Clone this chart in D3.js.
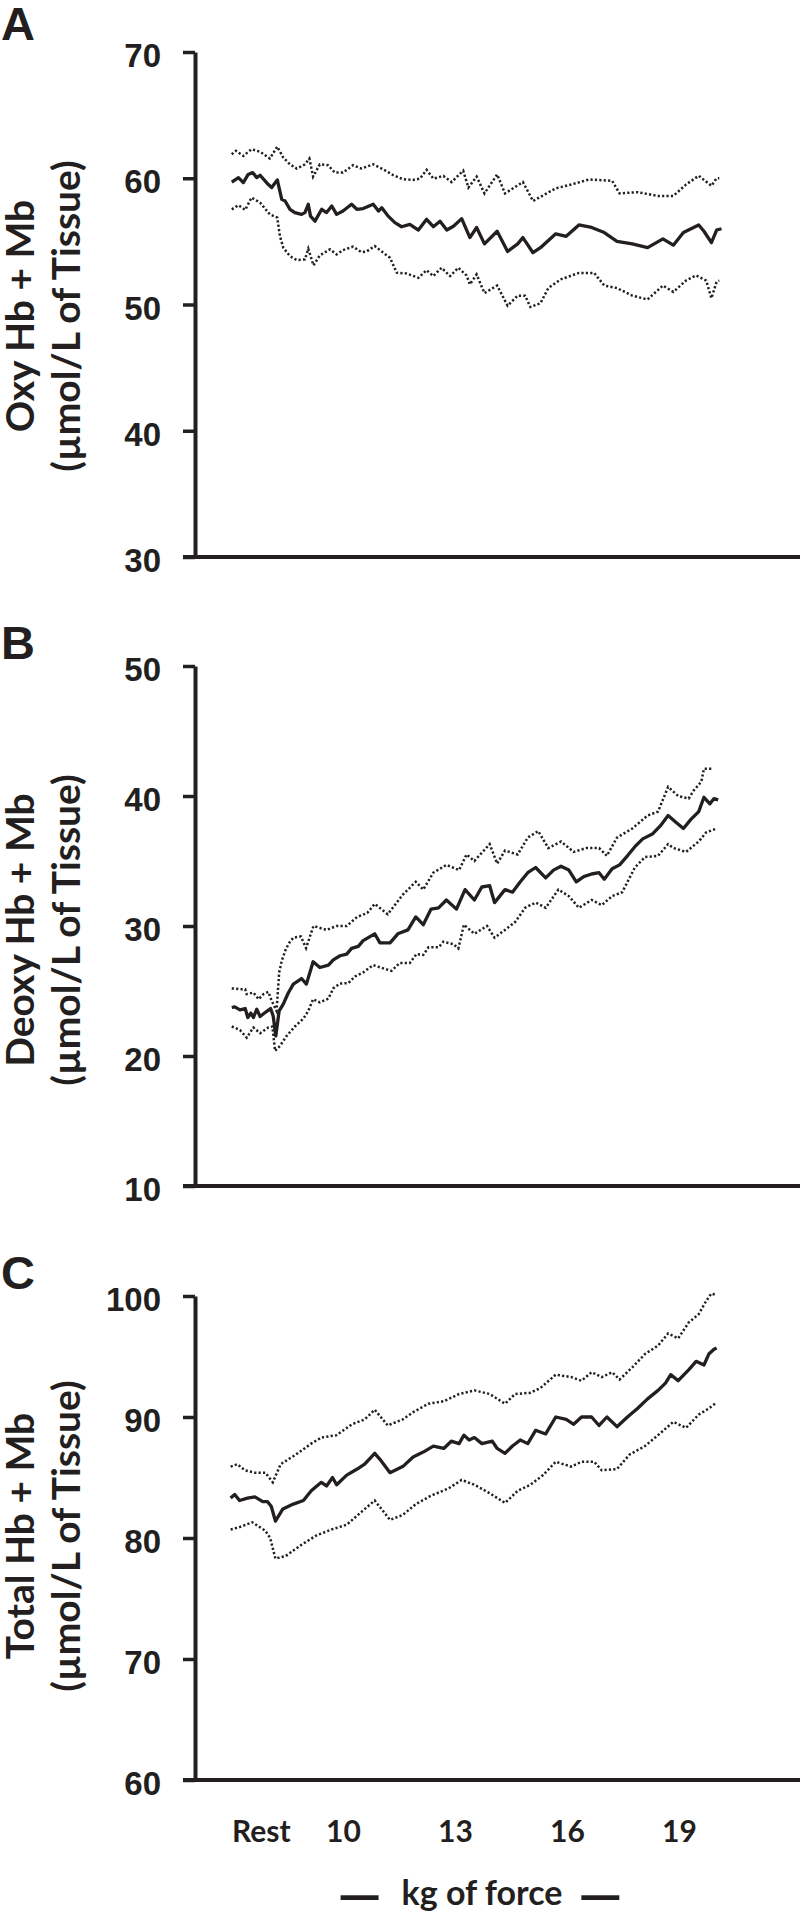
<!DOCTYPE html>
<html>
<head>
<meta charset="utf-8">
<script src="https://cdn.jsdelivr.net/npm/d3@7"></script>
<style>
  body { margin: 0; background: #fff; }
  .tick text { font-family: "Liberation Sans", Arial, sans-serif; font-weight: bold; }
  .lato { font-family: Lato, "Open Sans", sans-serif; font-weight: bold; }
</style>
</head>
<body>
<div id="chart"></div>
<script>
// x values are kg of force, rest period sits before 10 kg
var forceTicks = [7.8, 10, 13, 16, 19];
var forceLabels = ["Rest", "10", "13", "16", "19"];

// A - oxy Hb + Mb
var oxyTicks = [30, 40, 50, 60, 70];
var oxyMean = [[7.02,59.7],[7.20,60.05],[7.33,59.66],[7.46,60.3],[7.58,60.45],[7.69,60.05],[7.78,60.24],[8.00,59.5],[8.09,59.26],[8.24,59.87],[8.36,58.33],[8.45,58.2],[8.58,57.54],[8.71,57.28],[8.89,57.14],[8.98,57.28],[9.07,57.94],[9.13,57.0],[9.25,56.6],[9.43,57.54],[9.56,57.28],[9.70,57.8],[9.83,57.14],[10.00,57.4],[10.23,57.94],[10.37,57.54],[10.54,57.6],[10.81,57.94],[10.95,57.4],[11.04,57.67],[11.21,57.0],[11.39,56.48],[11.57,56.16],[11.79,56.35],[12.02,55.9],[12.24,56.75],[12.42,56.16],[12.60,56.6],[12.78,55.9],[12.96,56.2],[13.18,56.8],[13.40,55.3],[13.58,56.1],[13.79,54.8],[14.13,55.8],[14.41,54.2],[14.68,54.8],[14.82,55.3],[15.09,54.1],[15.29,54.5],[15.70,55.6],[15.98,55.4],[16.32,56.3],[16.66,56.1],[17.00,55.7],[17.34,55.0],[17.75,54.8],[18.16,54.5],[18.57,55.2],[18.85,54.7],[19.12,55.7],[19.53,56.3],[19.67,55.8],[19.87,54.9],[20.01,55.9],[20.14,56.0]];
var oxyUpper = [[7.02,61.9],[7.13,62.17],[7.33,61.77],[7.55,62.3],[7.78,62.1],[8.04,61.56],[8.24,62.5],[8.40,61.64],[8.58,61.1],[8.76,60.77],[8.98,61.1],[9.10,61.56],[9.20,60.13],[9.38,61.1],[9.60,61.03],[9.78,60.45],[10.00,60.45],[10.27,61.03],[10.49,60.77],[10.81,61.1],[11.08,60.7],[11.35,60.24],[11.61,59.92],[11.88,59.87],[12.06,59.97],[12.24,60.66],[12.42,59.97],[12.69,60.18],[12.91,59.7],[13.22,60.6],[13.36,59.26],[13.58,60.13],[13.79,58.8],[14.13,60.3],[14.34,58.8],[14.82,59.7],[15.09,58.2],[15.70,59.2],[16.11,59.5],[16.59,59.9],[17.21,59.8],[17.41,58.8],[17.89,58.9],[18.44,58.6],[18.85,58.6],[19.19,59.5],[19.53,60.2],[19.87,59.4],[20.01,60.0],[20.08,60.0]];
var oxyLower = [[7.02,57.54],[7.20,57.86],[7.38,57.49],[7.55,58.47],[7.78,58.07],[8.04,57.14],[8.24,56.88],[8.31,55.42],[8.40,54.5],[8.58,53.83],[8.76,53.52],[8.98,53.57],[9.07,54.42],[9.21,53.1],[9.38,53.89],[9.65,54.37],[9.83,53.97],[10.00,54.31],[10.27,54.58],[10.49,54.15],[10.63,54.2],[10.85,54.63],[11.08,54.1],[11.26,53.7],[11.44,52.52],[11.70,52.46],[12.02,52.12],[12.24,52.72],[12.42,52.25],[12.64,52.91],[12.87,52.25],[13.09,52.91],[13.31,52.3],[13.40,51.59],[13.58,52.38],[13.79,50.9],[14.13,51.5],[14.41,49.9],[14.68,50.7],[14.88,50.7],[15.02,49.8],[15.29,50.1],[15.50,51.3],[15.84,52.0],[16.32,52.5],[16.73,52.5],[17.00,51.5],[17.34,51.3],[17.75,50.7],[18.16,50.4],[18.57,51.5],[18.85,51.0],[19.19,51.9],[19.46,52.3],[19.73,51.9],[19.87,50.5],[20.01,51.8],[20.08,51.9]];

// B - deoxy Hb + Mb
var deoxyTicks = [10, 20, 30, 40, 50];
var deoxyMean = [[7.02,23.73],[7.10,23.78],[7.24,23.55],[7.38,23.65],[7.45,22.96],[7.53,23.3],[7.60,22.96],[7.69,23.6],[7.78,23.04],[7.94,23.4],[8.06,23.65],[8.13,23.08],[8.20,21.54],[8.29,23.47],[8.40,23.99],[8.53,24.83],[8.67,25.53],[8.89,25.96],[9.02,25.53],[9.20,27.25],[9.38,26.81],[9.61,26.99],[9.74,27.4],[9.92,27.71],[10.10,27.84],[10.23,28.28],[10.41,28.43],[10.54,28.87],[10.85,29.4],[10.99,28.7],[11.26,28.7],[11.47,29.4],[11.74,29.7],[11.95,30.7],[12.15,30.1],[12.36,31.3],[12.56,31.4],[12.77,32.0],[13.04,31.3],[13.27,32.8],[13.52,32.0],[13.72,33.0],[13.93,33.1],[14.06,31.8],[14.34,32.8],[14.54,32.6],[14.75,33.4],[14.95,34.1],[15.16,34.5],[15.43,33.7],[15.64,34.3],[15.84,34.6],[16.05,34.3],[16.25,33.4],[16.45,33.8],[16.66,34.0],[16.86,34.1],[17.00,33.6],[17.21,34.4],[17.41,34.7],[17.62,35.4],[17.82,36.1],[18.03,36.7],[18.30,37.1],[18.50,37.7],[18.71,38.5],[18.91,38.0],[19.12,37.5],[19.32,38.2],[19.53,38.8],[19.67,39.9],[19.83,39.4],[19.94,39.8],[20.05,39.7]];
var deoxyUpper = [[7.02,25.2],[7.24,25.14],[7.38,25.14],[7.42,24.76],[7.60,24.88],[7.74,24.37],[7.87,24.76],[8.00,24.93],[8.09,24.24],[8.22,23.47],[8.29,26.43],[8.36,27.33],[8.47,28.23],[8.58,28.79],[8.67,29.1],[8.87,29.2],[9.01,28.3],[9.21,30.0],[9.56,29.7],[9.83,30.0],[10.10,30.0],[10.38,30.7],[10.65,31.0],[10.85,31.7],[11.20,30.9],[11.60,32.4],[11.95,33.4],[12.15,32.8],[12.42,34.1],[12.77,34.7],[13.11,34.3],[13.31,35.5],[13.52,35.0],[13.93,36.3],[14.13,34.8],[14.34,35.8],[14.68,35.5],[14.95,36.8],[15.23,37.3],[15.50,36.0],[15.84,36.5],[16.18,35.7],[16.52,36.0],[16.86,36.0],[17.07,35.4],[17.34,36.8],[17.75,37.5],[18.16,38.5],[18.44,38.8],[18.71,40.7],[18.98,40.0],[19.26,39.8],[19.39,40.4],[19.60,41.1],[19.67,42.1],[19.87,42.1]];
var deoxyLower = [[7.02,22.27],[7.24,22.0],[7.42,21.41],[7.60,22.19],[7.78,21.75],[8.00,22.19],[8.11,22.27],[8.18,20.39],[8.31,20.77],[8.49,21.54],[8.71,22.27],[8.94,22.88],[9.07,23.47],[9.20,24.37],[9.38,24.12],[9.61,24.42],[9.74,25.2],[9.92,25.58],[10.14,25.6],[10.32,26.12],[10.54,26.43],[10.81,26.99],[11.08,26.74],[11.30,26.55],[11.52,27.15],[11.79,27.15],[11.97,27.84],[12.15,27.77],[12.29,28.36],[12.56,28.36],[12.69,28.79],[12.96,28.6],[13.09,28.28],[13.24,30.1],[13.52,29.4],[13.86,30.0],[14.06,29.1],[14.34,29.7],[14.61,30.3],[14.88,31.4],[15.16,31.8],[15.43,31.4],[15.77,32.8],[16.05,32.3],[16.32,31.4],[16.66,32.0],[16.93,31.6],[17.21,32.3],[17.48,32.6],[17.82,34.5],[18.09,35.3],[18.44,35.4],[18.71,36.3],[18.85,36.0],[19.19,35.7],[19.53,36.5],[19.73,37.2],[20.01,37.5]];

// C - total Hb + Mb
var totalTicks = [60, 70, 80, 90, 100];
var totalMean = [[6.99,83.3],[7.10,83.6],[7.23,83.1],[7.44,83.3],[7.64,83.4],[7.85,83.0],[7.98,83.0],[8.08,82.6],[8.19,81.4],[8.39,82.4],[8.67,82.8],[8.94,83.1],[9.15,83.9],[9.42,84.6],[9.56,84.3],[9.72,85.0],[9.83,84.4],[10.10,85.2],[10.38,85.7],[10.58,86.1],[10.85,87.0],[10.99,86.5],[11.26,85.4],[11.60,85.9],[11.88,86.7],[12.15,87.1],[12.42,87.6],[12.70,87.4],[12.90,88.0],[13.11,87.8],[13.24,88.5],[13.38,88.1],[13.52,88.3],[13.72,87.8],[14.00,88.0],[14.13,87.4],[14.34,87.0],[14.54,87.6],[14.75,88.1],[14.95,87.8],[15.16,88.9],[15.43,88.6],[15.70,90.0],[15.98,89.8],[16.18,89.4],[16.39,90.0],[16.66,90.0],[16.86,89.3],[17.07,90.0],[17.34,89.2],[17.62,90.0],[17.89,90.7],[18.16,91.5],[18.44,92.2],[18.64,92.8],[18.78,93.5],[18.98,93.0],[19.26,93.9],[19.46,94.6],[19.67,94.3],[19.80,95.2],[19.94,95.6],[20.01,95.7]];
var totalUpper = [[6.99,85.9],[7.17,86.1],[7.37,85.6],[7.64,85.4],[7.92,85.4],[8.12,84.6],[8.33,86.1],[8.74,86.9],[9.15,87.8],[9.42,88.3],[9.83,88.5],[10.24,89.4],[10.58,89.8],[10.85,90.6],[11.20,89.3],[11.60,89.8],[11.88,90.4],[12.29,91.1],[12.70,91.3],[13.11,91.9],[13.52,92.2],[13.93,91.9],[14.34,91.1],[14.61,91.9],[15.02,92.0],[15.29,92.4],[15.70,93.5],[16.11,93.3],[16.39,93.0],[16.66,93.7],[16.93,93.3],[17.21,93.7],[17.41,93.1],[17.75,94.1],[18.09,95.2],[18.44,95.9],[18.71,96.9],[18.98,96.5],[19.26,97.8],[19.53,98.5],[19.73,99.6],[19.87,100.2],[19.98,100.1]];
var totalLower = [[6.99,80.7],[7.23,80.9],[7.57,81.3],[7.92,80.6],[8.05,80.0],[8.19,78.3],[8.46,78.5],[8.87,79.4],[9.28,80.2],[9.69,80.7],[10.10,81.1],[10.51,82.2],[10.85,83.1],[11.26,81.5],[11.60,81.9],[11.95,82.8],[12.36,83.5],[12.83,84.1],[13.18,84.8],[13.52,84.4],[13.93,83.7],[14.34,82.9],[14.68,83.9],[15.02,84.4],[15.36,85.2],[15.70,86.3],[16.11,85.9],[16.39,86.3],[16.73,86.3],[16.93,85.6],[17.34,85.7],[17.68,86.9],[18.09,87.6],[18.44,88.5],[18.85,89.6],[19.19,89.1],[19.53,90.2],[19.80,90.7],[20.01,91.2]];

var width = 800, height = 1921;
var ink = "#231f20";
var axisX = 195;
var tickLen = 12;

var x = d3.scaleLinear().domain([7, 20.1]).range([231, 720]);

var svg = d3.select("#chart")
    .append("svg")
    .attr("width", width)
    .attr("height", height);

svg.append("rect").attr("width", width).attr("height", height).attr("fill", "#fff");

var panels = [
  {letter: "A", letterY: 40, ticks: oxyTicks, top: 52, bottom: 557, titleY: 316,
   title: ["Oxy Hb + Mb", "(µmol/L of Tissue)"], mean: oxyMean, upper: oxyUpper, lower: oxyLower},
  {letter: "B", letterY: 659, ticks: deoxyTicks, top: 666, bottom: 1186, titleY: 930,
   title: ["Deoxy Hb + Mb", "(µmol/L of Tissue)"], mean: deoxyMean, upper: deoxyUpper, lower: deoxyLower},
  {letter: "C", letterY: 1289, ticks: totalTicks, top: 1296, bottom: 1780, titleY: 1536,
   title: ["Total Hb + Mb", "(µmol/L of Tissue)"], mean: totalMean, upper: totalUpper, lower: totalLower}
];

panels.forEach(function(p, i) {
  var y = d3.scaleLinear()
      .domain(d3.extent(p.ticks))
      .range([p.bottom, p.top]);

  var line = d3.line()
      .x(function(d) { return x(d[0]); })
      .y(function(d) { return y(d[1]); });

  // panel letter
  svg.append("text")
      .attr("x", 1)
      .attr("y", p.letterY)
      .attr("font-family", "Liberation Sans, Arial, sans-serif")
      .attr("font-weight", "bold")
      .attr("font-size", 47)
      .attr("fill", ink)
      .text(p.letter);

  // y title, two lines
  var t = svg.append("g")
      .attr("class", "lato")
      .attr("fill", ink)
      .attr("font-size", 39)
      .attr("text-anchor", "middle");
  t.append("text")
      .attr("transform", `translate(34, ${p.titleY})rotate(-90)`)
      .text(p.title[0]);
  t.append("text")
      .attr("transform", `translate(80, ${p.titleY})rotate(-90)`)
      .text(p.title[1]);

  // y axis
  var yAxis = svg.append("g")
      .attr("transform", `translate(${axisX},0)`)
      .call(d3.axisLeft(y).tickValues(p.ticks).tickSize(tickLen).tickSizeOuter(0).tickPadding(22));
  yAxis.select(".domain").attr("stroke", ink).attr("stroke-width", 4);
  yAxis.selectAll(".tick line").attr("stroke", ink).attr("stroke-width", 3.5);
  yAxis.selectAll(".tick text")
      .attr("font-size", 33)
      .attr("fill", ink)
      .attr("dy", "0.44em");

  // x axis line
  svg.append("line")
      .attr("x1", axisX - tickLen)
      .attr("x2", width)
      .attr("y1", y(p.ticks[0]))
      .attr("y2", y(p.ticks[0]))
      .attr("stroke", ink)
      .attr("stroke-width", 4);

  // mean and bounds
  [p.upper, p.lower].forEach(function(s) {
    svg.append("path")
        .datum(s)
        .attr("d", line)
        .attr("fill", "none")
        .attr("stroke", ink)
        .attr("stroke-width", 2.5)
        .attr("stroke-dasharray", "2.2,2.2");
  });
  svg.append("path")
      .datum(p.mean)
      .attr("d", line)
      .attr("fill", "none")
      .attr("stroke", ink)
      .attr("stroke-width", 3.3)
      .attr("stroke-linejoin", "round");

  if (i == 2) {
    var xAxis = svg.append("g")
        .attr("transform", `translate(0,${p.bottom})`)
        .call(d3.axisBottom(x).tickValues(forceTicks).tickSize(0)
          .tickFormat(function(d, k) { return forceLabels[k]; }));
    xAxis.select(".domain").remove();
    xAxis.selectAll(".tick text")
        .style("font-family", "Lato, 'Open Sans', sans-serif")
        .attr("font-size", 30)
        .attr("fill", ink)
        .attr("y", 62)
        .attr("dy", 0);

    var xt = svg.append("g")
        .attr("class", "lato")
        .attr("fill", ink);
    xt.append("text").attr("x", 482).attr("y", 1905).attr("font-size", 34)
        .attr("text-anchor", "middle").text("kg of force");
    xt.append("text").attr("x", 382).attr("y", 1914).attr("font-size", 56)
        .attr("text-anchor", "end").text("—");
    xt.append("text").attr("x", 578).attr("y", 1914).attr("font-size", 56)
        .attr("text-anchor", "start").text("—");
  }
});
</script>
</body>
</html>
